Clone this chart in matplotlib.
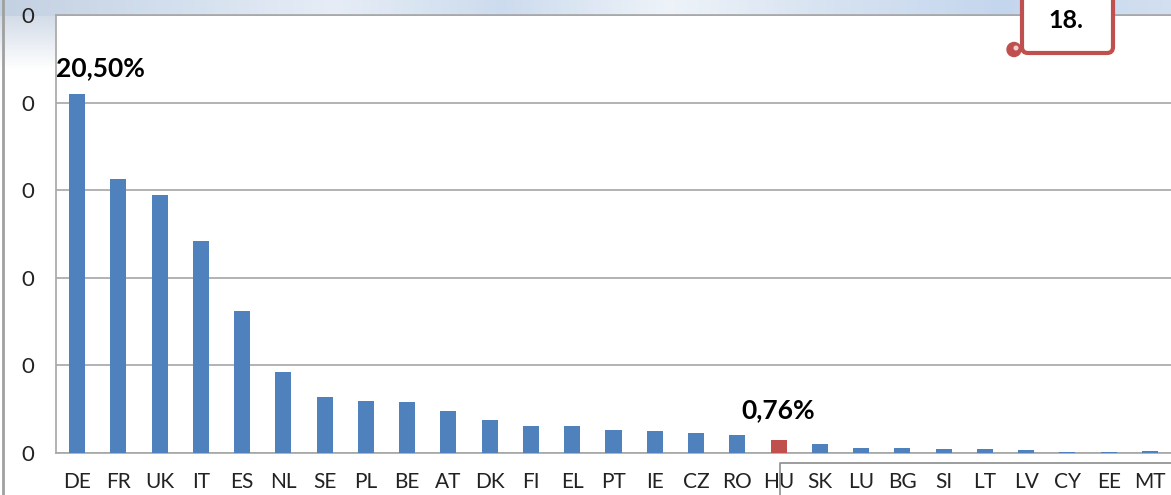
import numpy as np
import matplotlib
matplotlib.use("Agg")
import matplotlib.pyplot as plt
from matplotlib.patches import FancyBboxPatch, Circle
from matplotlib.colors import LinearSegmentedColormap

plt.rcParams['font.family'] = ['Lato', 'DejaVu Sans']

# --- data -------------------------------------------------------------
countries = ['DE', 'FR', 'UK', 'IT', 'ES', 'NL', 'SE', 'PL', 'BE', 'AT',
             'DK', 'FI', 'EL', 'PT', 'IE', 'CZ', 'RO', 'HU', 'SK', 'LU',
             'BG', 'SI', 'LT', 'LV', 'CY', 'EE', 'MT']
shares = [20.50, 15.66, 14.74, 12.11, 8.11, 4.65, 3.18, 2.95, 2.93, 2.38,
          1.89, 1.54, 1.54, 1.31, 1.24, 1.16, 1.05, 0.76, 0.51, 0.29,
          0.29, 0.21, 0.21, 0.15, 0.08, 0.08, 0.09]
highlight = 'HU'
yticks = [0, 5, 10, 15, 20, 25]
ytick_labels = ['0', '0', '0', '0', '0', '0']
labelled = {'DE': '20,50%', 'HU': '0,76%'}
badge_text = '18.'

W, H = 1171, 495
fig = plt.figure(figsize=(W / 100, H / 100), dpi=100)

# background (gradient strip on top, white below)
bg = fig.add_axes([0, 0, 1, 1], zorder=0)
bg.set_xlim(0, W)
bg.set_ylim(H, 0)
bg.axis('off')
cmap = LinearSegmentedColormap.from_list(
    'strip', ['#c4d1e2', '#d3dfee', '#e6edf6', '#ccdbee', '#eef3f9',
              '#d6e2f1', '#c4d6ee', '#d2dff0'])
grad = np.linspace(0, 1, 300)[None, :]
bg.imshow(grad, cmap=cmap, aspect='auto', extent=[0, W, 16, 0], zorder=0)
# faded edge on the left margin
fade = np.linspace(1, 0, 50)[:, None] * np.ones((1, 10))
bg.imshow(fade, cmap=LinearSegmentedColormap.from_list('f', ['white', '#d3dce8']),
          aspect='auto', extent=[0, 56, 70, 16], zorder=0)
bg.axvline(3, color='#a0a0a0', lw=2)

# main chart
left, right, top, bottom = 56, 1171, 15, 453
ax = fig.add_axes([left / W, (H - bottom) / H, (right - left) / W,
                   (bottom - top) / H], zorder=1)
ax.set_facecolor('white')

x = np.arange(len(countries))
colors = ['#c0504d' if c == highlight else '#4f81bd' for c in countries]
ax.bar(x, shares, width=0.39, color=colors, zorder=3)

ax.set_xlim(-0.51, 26.51)
ax.set_ylim(0, 25)
ax.set_yticks(yticks)
ax.set_yticklabels(ytick_labels)
ax.set_xticks(x)
ax.set_xticklabels(countries)
ax.tick_params(axis='x', length=0, pad=14, labelsize=15, colors='#222222')
ax.tick_params(axis='y', length=0, pad=16, labelsize=16, colors='#222222')
ax.yaxis.grid(True, color='#a6a6a6', lw=1.2, zorder=0)
for side in ['left', 'top', 'bottom']:
    ax.spines[side].set_color('#a6a6a6')
    ax.spines[side].set_linewidth(1.2)
ax.spines['right'].set_visible(False)

for c, txt in labelled.items():
    i = countries.index(c)
    dx = 16.5 if c == 'DE' else 0
    dy = 18.5 if c == 'DE' else 21.5
    ax.annotate(txt, (i, shares[i]), xytext=(dx, dy),
                textcoords='offset points', ha='center', va='center',
                fontsize=19, fontweight='bold', color='black', zorder=5)

# overlay: badge and grey frame at the bottom right
ov = fig.add_axes([0, 0, 1, 1], zorder=2)
ov.set_xlim(0, W)
ov.set_ylim(H, 0)
ov.axis('off')
ov.patch.set_alpha(0)
ov.plot([780, 780, W + 5], [H + 5, 462.5, 462.5], color='#8c8c8c', lw=1.2)

badge = FancyBboxPatch((1022, -30), 91, 83,
                       boxstyle='round,pad=0,rounding_size=6',
                       facecolor='white', edgecolor='#c0504d', lw=3, zorder=4)
ov.add_patch(badge)
ov.add_patch(Circle((1014, 49.5), 7, facecolor='#c0504d',
                    edgecolor='#c0504d', zorder=3))
ov.add_patch(Circle((1016, 48), 2.5, facecolor='#f0d0d0',
                    edgecolor='none', zorder=3.5))
ov.text(1066, 21, badge_text, ha='center', va='center', fontsize=18,
        fontweight='bold', color='black', zorder=5)

fig.savefig('out.png', dpi=100)
